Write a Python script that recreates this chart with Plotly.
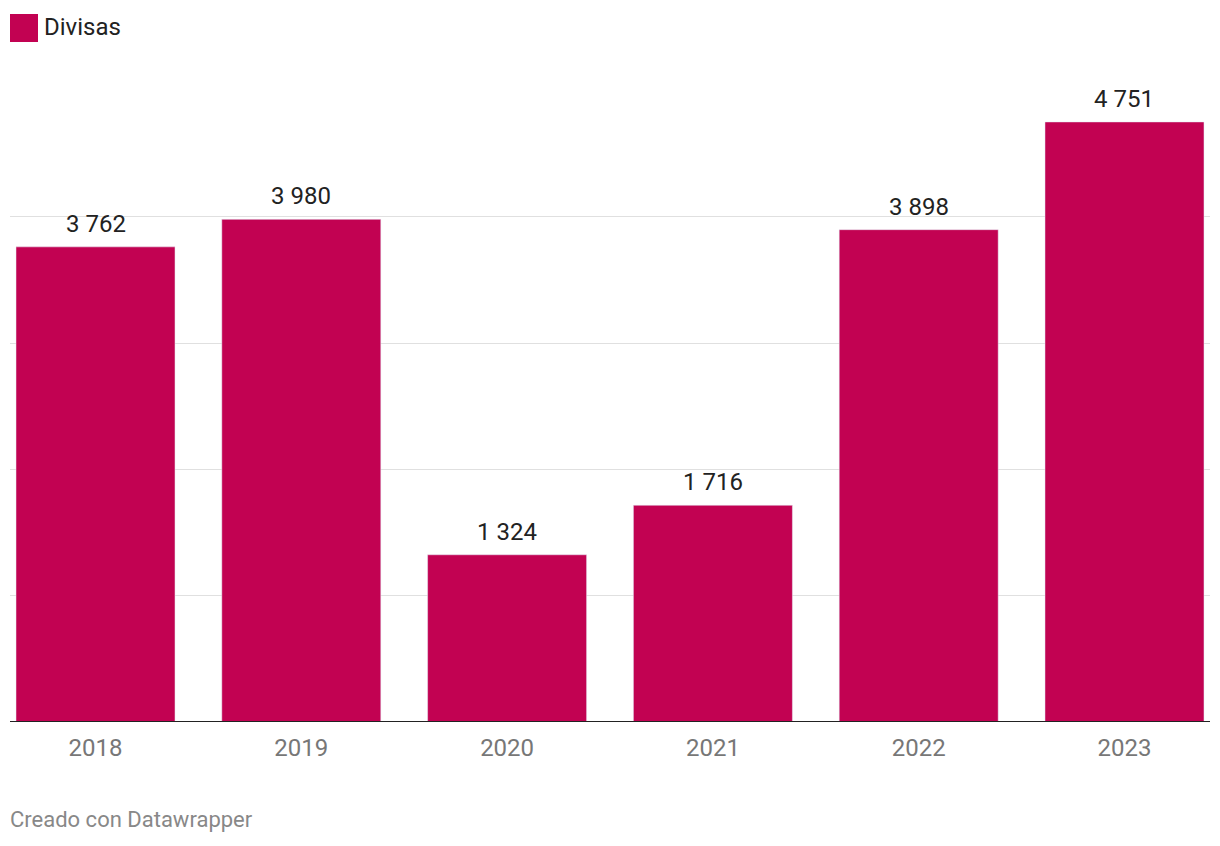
import plotly.graph_objects as go

years = ["2018", "2019", "2020", "2021", "2022", "2023"]
divisas = [3762, 3980, 1324, 1716, 3898, 4751]
series_name = "Divisas"
grid_vals = [1000, 2000, 3000, 4000]

BAR = "#C20252"
FONT = "Roboto"

W, H = 1220, 846
ml, mr, mt, mb = 10, 10, 80, 124
plot_h = H - mt - mb
px_per_unit = 0.1263
ymax = plot_h / px_per_unit

def fmt(v):
    return f"{v:,}".replace(",", " ")

fig = go.Figure()
fig.add_trace(go.Bar(
    x=list(range(len(years))), y=divisas, marker_color=BAR, width=0.7726,
    name=series_name, showlegend=False, hoverinfo="skip",
))

for i, v in enumerate(divisas):
    fig.add_annotation(x=i, y=v, text=fmt(v), showarrow=False, yanchor="bottom",
                       yshift=7, font=dict(family=FONT, size=24, color="#222222"))

fig.add_shape(type="line", xref="paper", yref="y", x0=0, x1=1, y0=0, y1=0,
              line=dict(color="#222222", width=2), layer="above")

def px2x(p):
    return (p - ml) / (W - ml - mr)
def py2y(p):
    return (H - mb - p) / plot_h

fig.add_shape(type="rect", xref="paper", yref="paper", x0=px2x(10), x1=px2x(38),
              y0=py2y(42), y1=py2y(14), fillcolor=BAR, line=dict(width=0))
fig.add_annotation(xref="paper", yref="paper", x=px2x(42), y=py2y(27), xanchor="left",
                   yanchor="middle", text=series_name, showarrow=False,
                   font=dict(family=FONT, size=24, color="#222222"))
fig.add_annotation(xref="paper", yref="paper", x=px2x(8), y=py2y(820), xanchor="left",
                   yanchor="middle", text="Creado con Datawrapper", showarrow=False,
                   font=dict(family=FONT, size=22, color="#888888"))

fig.update_layout(
    width=W, height=H, margin=dict(l=ml, r=mr, t=mt, b=mb),
    plot_bgcolor="white", paper_bgcolor="white",
    font=dict(family=FONT),
)
fig.update_xaxes(
    range=[-0.4155, 5.4155], tickvals=list(range(len(years))), ticktext=years,
    showgrid=False, zeroline=False, showline=False, ticks="",
    ticklabelstandoff=9,
    tickfont=dict(family=FONT, size=24, color="#777777"),
)
fig.update_yaxes(
    range=[0, ymax], tickvals=grid_vals, showticklabels=False,
    showgrid=True, gridcolor="#E0E0E0", gridwidth=1, zeroline=False, showline=False,
)

fig.write_html("out.html")
